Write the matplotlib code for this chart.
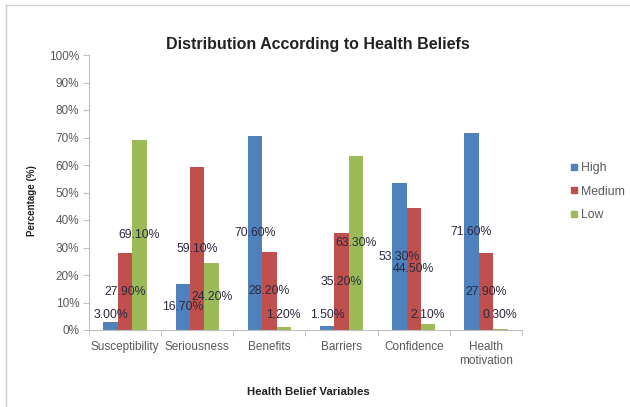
import matplotlib
matplotlib.use("Agg")
import matplotlib.pyplot as plt
import numpy as np
from matplotlib.lines import Line2D

plt.rcParams['font.family'] = ['Liberation Sans', 'DejaVu Sans']

categories = ["Susceptibility", "Seriousness", "Benefits", "Barriers", "Confidence", "Health\nmotivation"]
series_names = ["High", "Medium", "Low"]
high = [3.0, 16.7, 70.6, 1.5, 53.3, 71.6]
medium = [27.9, 59.1, 28.2, 35.2, 44.5, 27.9]
low = [69.1, 24.2, 1.2, 63.3, 2.1, 0.3]
yticks = [0, 10, 20, 30, 40, 50, 60, 70, 80, 90, 100]

colors = ["#4F81BD", "#C0504D", "#9BBB59"]

W, H = 630, 407
fig = plt.figure(figsize=(W / 100, H / 100), dpi=100)
ax = fig.add_axes([89 / W, 1 - 330 / H, (522 - 89) / W, (330 - 55) / H])

x = np.arange(len(categories))
bw = 0.2
for i, (vals, c) in enumerate(zip([high, medium, low], colors)):
    pos = x + (i - 1) * bw
    ax.bar(pos, vals, width=bw, color=c, label=series_names[i], zorder=2)
    for p, v in zip(pos, vals):
        ax.text(p, max(v / 2, 5.5), f"{v:.2f}%", ha="center", va="center", fontsize=8.8,
                color="#2a2a40", zorder=3)

ax.set_xlim(-0.5, len(categories) - 0.5)
ax.set_ylim(0, 100)
ax.set_yticks(yticks)
ax.set_yticklabels([f"{t}%" for t in yticks])
ax.set_xticks(x)
ax.set_xticklabels(categories)
ax.set_xticks(np.arange(-0.5, len(categories), 1), minor=True)
ax.tick_params(axis="x", which="major", length=0, labelsize=8.5, colors="#595959", pad=8)
ax.tick_params(axis="x", which="minor", length=4, color="#bfbfbf", direction="out")
ax.tick_params(axis="y", length=4, color="#bfbfbf", labelsize=8.5, colors="#595959", pad=3)
for s in ["top", "right"]:
    ax.spines[s].set_visible(False)
for s in ["left", "bottom"]:
    ax.spines[s].set_color("#bfbfbf")
    ax.spines[s].set_linewidth(0.8)

fig.text(318 / W, 1 - 44 / H, "Distribution According to Health Beliefs", ha="center", va="center",
         fontsize=11.5, fontweight="bold", color="#222222")
fig.text(32 / W, 1 - 201 / H, "Percentage (%)", rotation=90, ha="center", va="center",
         fontsize=7, fontweight="bold", color="#222222")
fig.text(308 / W, 1 - 392 / H, "Health Belief Variables", ha="center", va="center",
         fontsize=8.2, fontweight="bold", color="#222222")

handles = [Line2D([], [], marker="s", linestyle="none", markersize=5, markerfacecolor=c,
                  markeredgecolor=c) for c in colors]
fig.legend(handles, series_names, loc="upper left", bbox_to_anchor=(557 / W, 1 - 151 / H),
           frameon=False, fontsize=8.8, labelcolor="#595959", handletextpad=0.1,
           labelspacing=0.95, handlelength=1.0)

# chart frame (top and left edges)
fig.add_artist(Line2D([6 / W, 6 / W], [0, 1 - 5 / H], transform=fig.transFigure, color="#d0d0d0", lw=1))
fig.add_artist(Line2D([6 / W, 1], [1 - 5 / H, 1 - 5 / H], transform=fig.transFigure, color="#d0d0d0", lw=1))

fig.savefig("out.png", dpi=100)
